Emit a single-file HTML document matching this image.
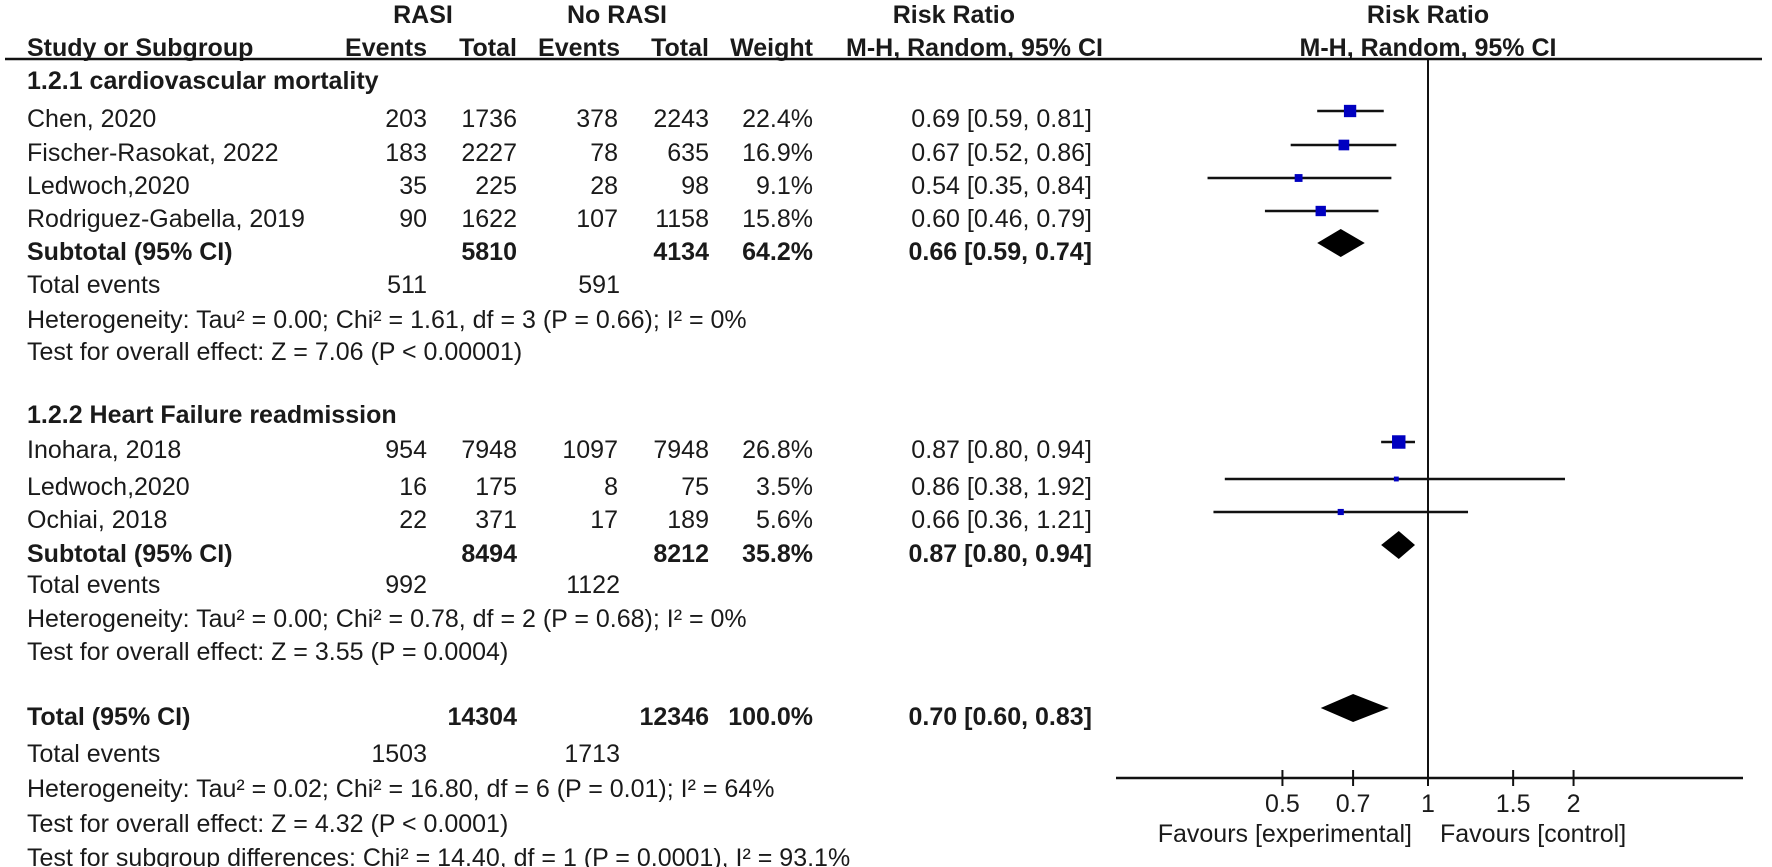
<!DOCTYPE html>
<html><head><meta charset="utf-8"><style>
html,body{margin:0;padding:0;background:#fff;}
svg{display:block;font-family:"Liberation Sans",Arial,sans-serif;}
text{font-size:25px;fill:#1a1a1a;}
.b{font-weight:bold;}
</style></head><body>
<svg id="fp" width="1772" height="867" viewBox="0 0 1772 867">
<g>
<text x="423" y="23" class="b" text-anchor="middle">RASI</text>
<text x="617" y="23" class="b" text-anchor="middle">No RASI</text>
<text x="1015" y="23" class="b" text-anchor="end">Risk Ratio</text>
<text x="1428" y="23" class="b" text-anchor="middle">Risk Ratio</text>
<text x="27" y="56" class="b">Study or Subgroup</text>
<text x="427" y="56" class="b" text-anchor="end">Events</text>
<text x="517" y="56" class="b" text-anchor="end">Total</text>
<text x="620" y="56" class="b" text-anchor="end">Events</text>
<text x="709" y="56" class="b" text-anchor="end">Total</text>
<text x="813" y="56" class="b" text-anchor="end">Weight</text>
<text x="1103" y="56" class="b" text-anchor="end">M-H, Random, 95% CI</text>
<text x="1428" y="56" class="b" text-anchor="middle">M-H, Random, 95% CI</text>
<line x1="5" y1="59" x2="1762" y2="59" stroke="#111" stroke-width="2.5"/>
</g>
<g id="tbl"></g>
<g id="plot"></g>
</svg>
<script>
// study rows
const studies = ["Chen, 2020","Fischer-Rasokat, 2022","Ledwoch,2020","Rodriguez-Gabella, 2019","Inohara, 2018","Ledwoch,2020","Ochiai, 2018"];
const studyY = [127,161,194,227,458,495,528];
const eventsRasi = [203,183,35,90,954,16,22];
const totalRasi = [1736,2227,225,1622,7948,175,371];
const eventsNo = [378,78,28,107,1097,8,17];
const totalNo = [2243,635,98,1158,7948,75,189];
const weights = [22.4,16.9,9.1,15.8,26.8,3.5,5.6];
const rr = [0.69,0.67,0.54,0.60,0.87,0.86,0.66];
const lo = [0.59,0.52,0.35,0.46,0.80,0.38,0.36];
const hi = [0.81,0.86,0.84,0.79,0.94,1.92,1.21];
// pooled rows
const poolLabels = ["Subtotal (95% CI)","Subtotal (95% CI)","Total (95% CI)"];
const poolY = [260,562,725];
const poolTotR = [5810,8494,14304];
const poolTotN = [4134,8212,12346];
const poolW = ["64.2%","35.8%","100.0%"];
const poolRR = [0.66,0.87,0.70];
const poolLo = [0.59,0.80,0.60];
const poolHi = [0.74,0.94,0.83];
const ticks = [0.5,0.7,1,1.5,2];
const tickLabels = ["0.5","0.7","1","1.5","2"];

const NS="http://www.w3.org/2000/svg";
const tbl=document.getElementById('tbl'), plot=document.getElementById('plot');
const X0=1428, K=210, AXY=778;
function xs(v){return X0+K*Math.log(v);}
function txt(p,x,y,s,anchor,bold,name){
  const t=document.createElementNS(NS,'text');
  t.setAttribute('x',x);t.setAttribute('y',y);
  if(anchor)t.setAttribute('text-anchor',anchor);
  if(bold)t.setAttribute('class','b');
  t.textContent=s;
  
  
  p.appendChild(t);return t;
}
function el(p,tag,attrs,name){
  const e=document.createElementNS(NS,tag);
  for(const k in attrs)e.setAttribute(k,attrs[k]);
  
  
  p.appendChild(e);return e;
}
const f2=v=>v.toFixed(2);
// group/free text
txt(tbl,27,89,"1.2.1 cardiovascular mortality",null,true,'subgroup-1-title');
txt(tbl,27,423,"1.2.2 Heart Failure readmission",null,true,'subgroup-2-title');
const infoRows=[
 [293,"Total events","511","591"],[328,"Heterogeneity: Tau² = 0.00; Chi² = 1.61, df = 3 (P = 0.66); I² = 0%"],[360,"Test for overall effect: Z = 7.06 (P < 0.00001)"],
 [593,"Total events","992","1122"],[627,"Heterogeneity: Tau² = 0.00; Chi² = 0.78, df = 2 (P = 0.68); I² = 0%"],[660,"Test for overall effect: Z = 3.55 (P = 0.0004)"],
 [762,"Total events","1503","1713"],[797,"Heterogeneity: Tau² = 0.02; Chi² = 16.80, df = 6 (P = 0.01); I² = 64%"],[832,"Test for overall effect: Z = 4.32 (P < 0.0001)"],
 [866,"Test for subgroup differences: Chi² = 14.40, df = 1 (P = 0.0001), I² = 93.1%"]];
infoRows.forEach(r=>{
  txt(tbl,27,r[0],r[1],null,false,'info-text');
  if(r[2]){txt(tbl,427,r[0],r[2],'end',false,'total-events-rasi');txt(tbl,620,r[0],r[3],'end',false,'total-events-norasi');}
});
studies.forEach((s,i)=>{
  const y=studyY[i];
  txt(tbl,27,y,s,null,false,'study-name');
  txt(tbl,427,y,eventsRasi[i],'end',false,'rasi-events');
  txt(tbl,517,y,totalRasi[i],'end',false,'rasi-total');
  txt(tbl,618,y,eventsNo[i],'end',false,'norasi-events');
  txt(tbl,709,y,totalNo[i],'end',false,'norasi-total');
  txt(tbl,813,y,weights[i].toFixed(1)+'%','end',false,'weight');
  txt(tbl,1092,y,f2(rr[i])+' ['+f2(lo[i])+', '+f2(hi[i])+']','end',false,'risk-ratio-ci');
  const cy=y-16;
  el(plot,'line',{x1:xs(lo[i]),x2:xs(hi[i]),y1:cy,y2:cy,stroke:'#111','stroke-width':2.5},'ci-line');
  const sd=2.6*Math.sqrt(weights[i]);
  el(plot,'rect',{x:xs(rr[i])-sd/2,y:cy-sd/2,width:sd,height:sd,fill:'#0000c0'},'study-square');
});
poolLabels.forEach((s,i)=>{
  const y=poolY[i];
  txt(tbl,27,y,s,null,true,'pooled-label');
  txt(tbl,517,y,poolTotR[i],'end',true,'pooled-rasi-total');
  txt(tbl,709,y,poolTotN[i],'end',true,'pooled-norasi-total');
  txt(tbl,813,y,poolW[i],'end',true,'pooled-weight');
  txt(tbl,1092,y,f2(poolRR[i])+' ['+f2(poolLo[i])+', '+f2(poolHi[i])+']','end',true,'pooled-ci');
  const cy=y-17,h=14;
  el(plot,'polygon',{points:`${xs(poolLo[i])},${cy} ${xs(poolRR[i])},${cy-h} ${xs(poolHi[i])},${cy} ${xs(poolRR[i])},${cy+h}`,fill:'#000'},'pooled-diamond');
});
el(plot,'line',{x1:X0,x2:X0,y1:59,y2:AXY,stroke:'#111','stroke-width':2},'null-line');
el(plot,'line',{x1:1116,x2:1743,y1:AXY,y2:AXY,stroke:'#111','stroke-width':2.5},'x-axis');
ticks.forEach((t,i)=>{
  el(plot,'line',{x1:xs(t),x2:xs(t),y1:AXY-8,y2:AXY+8,stroke:'#111','stroke-width':2},'x-tick');
  txt(plot,xs(t),812,tickLabels[i],'middle',false,'x-tick-label');
});
txt(plot,1412,842,"Favours [experimental]",'end',false,'favours-experimental');
txt(plot,1440,842,"Favours [control]",null,false,'favours-control');
</script>
</body></html>
